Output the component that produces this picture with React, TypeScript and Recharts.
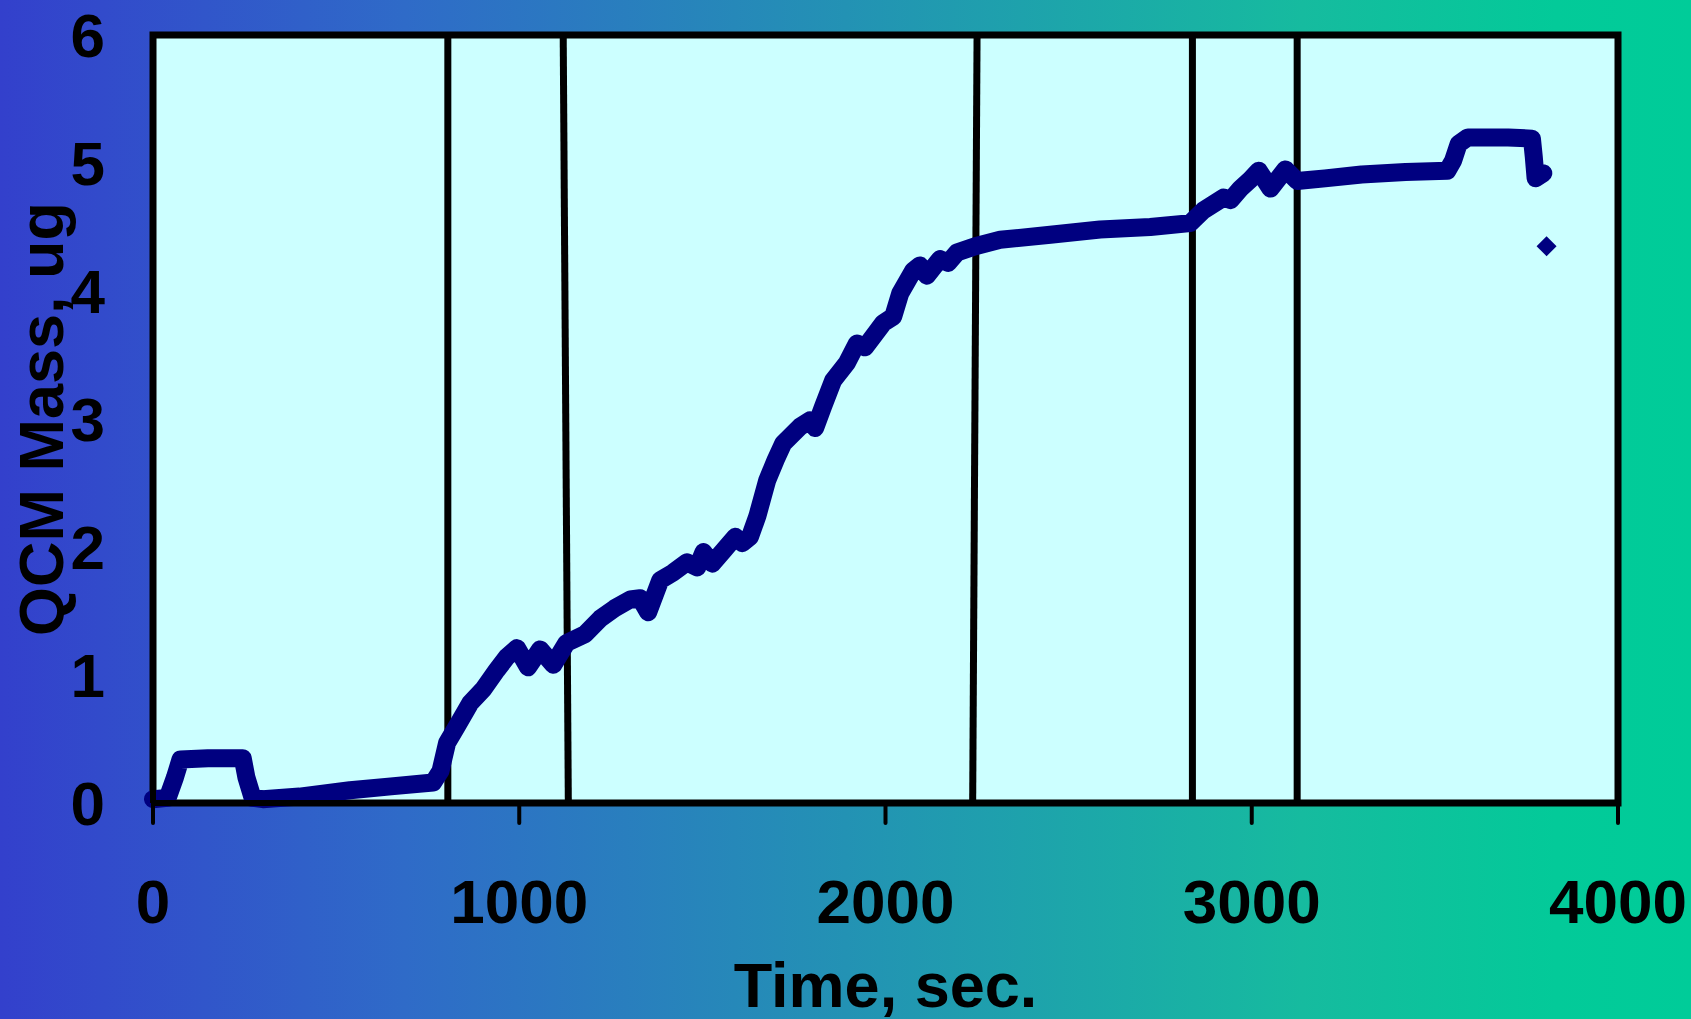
import React from 'react';
import {
  ComposedChart,
  Line,
  Scatter,
  XAxis,
  YAxis,
  CartesianGrid,
  ReferenceLine,
  ReferenceArea,
  Label,
} from 'recharts';

// QCM mass trace (time in sec, mass in ug)
const times = [
  0, 40, 60, 75, 150, 245, 255, 272, 300, 400, 538, 650, 765, 785, 803, 830, 866, 902, 939, 966,
  994, 1024, 1057, 1093, 1129, 1180, 1221, 1260, 1303, 1330, 1352, 1385, 1420, 1458, 1486, 1503,
  1527, 1560, 1590, 1609, 1630, 1650, 1677, 1700, 1721, 1767, 1794, 1808, 1830, 1857, 1895, 1922,
  1944, 1994, 2021, 2040, 2076, 2094, 2113, 2149, 2171, 2195, 2245, 2313, 2450, 2586, 2723, 2832,
  2868, 2923, 2942, 2969, 2996, 3019, 3051, 3092, 3124, 3200, 3300, 3420, 3534, 3550, 3565, 3590,
  3700, 3765, 3770, 3775, 3796,
];
const masses = [
  0.03, 0.04, 0.2, 0.34, 0.35, 0.35, 0.2, 0.04, 0.03, 0.05, 0.1, 0.13, 0.16, 0.25, 0.47, 0.6, 0.78,
  0.89, 1.04, 1.14, 1.21, 1.06, 1.2, 1.08, 1.25, 1.32, 1.44, 1.52, 1.59, 1.6, 1.49, 1.74, 1.8, 1.88,
  1.84, 1.96, 1.87, 1.98, 2.08, 2.03, 2.08, 2.24, 2.52, 2.68, 2.81, 2.94, 2.99, 2.93, 3.1, 3.3, 3.44,
  3.59, 3.56, 3.75, 3.8, 3.98, 4.16, 4.2, 4.12, 4.25, 4.22, 4.3, 4.35, 4.4, 4.44, 4.48, 4.5, 4.53,
  4.63, 4.73, 4.71, 4.8, 4.87, 4.94, 4.8, 4.95, 4.86, 4.88, 4.91, 4.93, 4.94, 5.02, 5.15, 5.2, 5.2,
  5.19, 5.05, 4.88, 4.92,
];

// lone point after the trace
const strayTimes = [3805];
const strayMasses = [4.35];

// vertical marker lines (top / bottom time, some are slightly slanted)
const markerTop = [805, 1120, 2250, 2838, 3124];
const markerBottom = [805, 1134, 2238, 2838, 3124];

const xTicks = [0, 1000, 2000, 3000, 4000];
const yTicks = [0, 1, 2, 3, 4, 5, 6];

const mass = times.map((t, i) => ({ t, v: masses[i] }));
const stray = strayTimes.map((t, i) => ({ t, v: strayMasses[i] }));

const FONT = '"Liberation Sans", Arial, Helvetica, sans-serif';
const NAVY = '#000080';

function Diamond(props: any) {
  const { cx, cy } = props;
  const r = 10;
  return (
    <polygon
      points={`${cx},${cy - r} ${cx + r},${cy} ${cx},${cy + r} ${cx - r},${cy}`}
      fill={NAVY}
    />
  );
}

function XTitle(props: any) {
  const vb = props.viewBox || { x: 153, y: 803, width: 1465 };
  return (
    <text
      x={vb.x + vb.width / 2}
      y={vb.y + 204}
      textAnchor="middle"
      fontFamily={FONT}
      fontWeight="bold"
      fontSize={63}
      fill="#000"
    >
      Time, sec.
    </text>
  );
}

function YTitle(props: any) {
  const vb = props.viewBox || { x: 53, y: 35, height: 768 };
  const cx = 63;
  const cy = vb.y + vb.height / 2;
  return (
    <text
      x={cx}
      y={cy}
      transform={`rotate(-90, ${cx}, ${cy})`}
      textAnchor="middle"
      fontFamily={FONT}
      fontWeight="bold"
      fontSize={63}
      fill="#000"
    >
      QCM Mass, ug
    </text>
  );
}

export default function App() {
  return (
    <div
      style={{
        position: 'absolute',
        left: 0,
        top: 0,
        width: 1691,
        height: 1019,
        background:
          'linear-gradient(to right, #3340CC 0%, #2F6BC8 24%, #2392B4 50%, #16BB9F 77%, #03CA99 92%, #00CC99 100%)',
      }}
    >
      <ComposedChart
        width={1691}
        height={1019}
        margin={{ top: 35, right: 73, left: 53, bottom: 66 }}
      >
        <CartesianGrid fill="#CCFFFF" horizontal={false} vertical={false} />
        <XAxis
          type="number"
          dataKey="t"
          domain={[0, 4000]}
          ticks={xTicks}
          height={150}
          axisLine={{ stroke: '#000', strokeWidth: 6 }}
          tickLine={{ stroke: '#000', strokeWidth: 4, strokeLinecap: 'round' }}
          tickSize={20}
          tickMargin={56}
          tick={{ fill: '#000', fontSize: 62, fontWeight: 'bold', fontFamily: FONT }}
          interval={0}
        >
          <Label content={<XTitle />} />
        </XAxis>
        <YAxis
          type="number"
          dataKey="v"
          domain={[0, 6]}
          ticks={yTicks}
          width={100}
          axisLine={{ stroke: '#000', strokeWidth: 6 }}
          tickLine={false}
          tickSize={0}
          tickMargin={48}
          tick={{ fill: '#000', fontSize: 62, fontWeight: 'bold', fontFamily: FONT }}
          interval={0}
        >
          <Label content={<YTitle />} />
        </YAxis>
        {markerTop.map((top, i) => (
          <ReferenceLine
            key={i}
            segment={[
              { x: markerBottom[i], y: 0 },
              { x: top, y: 6 },
            ]}
            stroke="#000"
            strokeWidth={7}
          />
        ))}
        <ReferenceArea
          x1={0}
          x2={4000}
          y1={0}
          y2={6}
          fill="none"
          fillOpacity={0}
          stroke="#000"
          strokeWidth={7}
        />
        <Line
          data={mass}
          dataKey="v"
          type="linear"
          stroke={NAVY}
          strokeWidth={18}
          strokeLinejoin="round"
          strokeLinecap="round"
          dot={false}
          activeDot={false}
          isAnimationActive={false}
        />
        <Scatter data={stray} dataKey="v" shape={<Diamond />} isAnimationActive={false} />
      </ComposedChart>
    </div>
  );
}
